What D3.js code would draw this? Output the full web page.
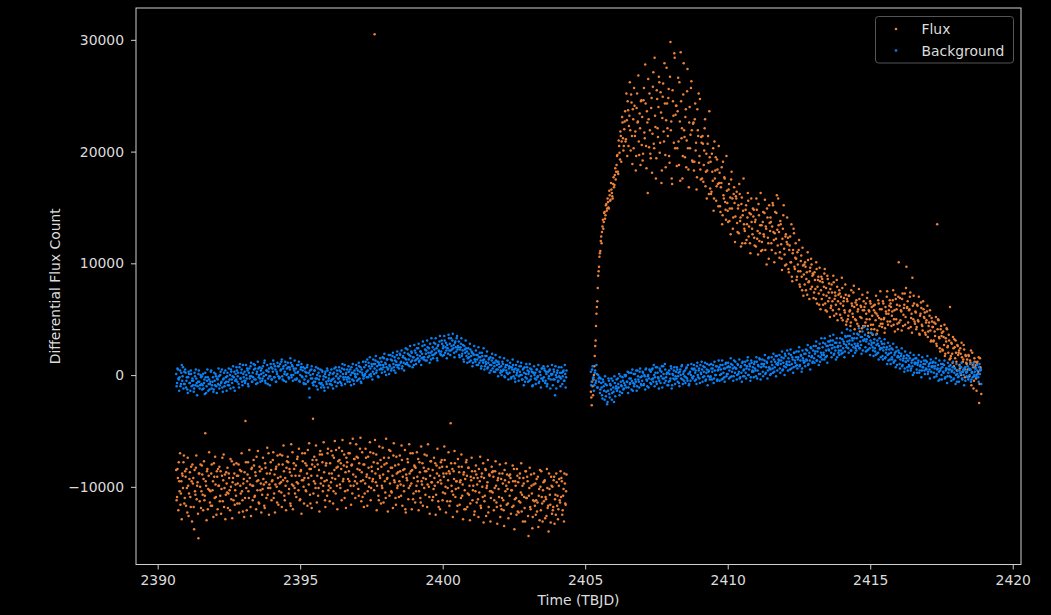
<!DOCTYPE html>
<html>
<head>
<meta charset="utf-8">
<script src="https://cdn.jsdelivr.net/npm/d3@7"></script>
<style>
  html, body { margin: 0; background: #000; }
  svg { display: block; font-family: "DejaVu Sans", sans-serif; }
</style>
</head>
<body>
<svg id="chart" width="1051" height="615"></svg>
<script>
// Light curve sampled at a fixed cadence; values are in hundreds of counts.
// Each orbit has two interleaved sample runs (A and B), offset by half a cadence.
const CADENCE = 0.03;            // days between samples within one run
const UNIT = 100;                // counts per stored unit
const orbit1StartA = 2390.65;
const orbit1StartB = 2390.665;
const orbit2StartA = 2405.2;
const orbit2StartB = 2405.215;

const flux1A = [
  -85,-109,-92,-78,-104,-116,-95,-88,-101,-72,
  -110,-91,-84,-123,-99,-106,-87,-118,-95,-80,
  -92,-138,-104,-83,-111,-96,-146,-88,-100,-119,
  -81,-107,-93,-112,-52,-99,-86,-120,-90,-103,
  -104,-88,-117,-95,-79,-110,-98,-125,-91,-84,
  -99,-113,-86,-102,-74,-94,-118,-89,-107,-97,
  -83,-106,-92,-121,-100,-77,-96,-112,-88,-103,
  -108,-90,-97,-80,-115,-99,-86,-104,-122,-93,
  -87,-41,-101,-95,-78,-110,-92,-118,-84,-99,
  -99,-81,-108,-90,-73,-103,-94,-115,-86,-97,
  -84,-102,-93,-117,-79,-96,-88,-107,-70,-98,
  -101,-85,-95,-76,-110,-89,-98,-82,-114,-92,
  -80,-97,-91,-105,-72,-94,-86,-112,-99,-83,
  -95,-78,-102,-87,-117,-90,-69,-99,-84,-106,
  -81,-96,-73,-103,-90,-111,-85,-94,-77,-100,
  -92,-79,-104,-88,-67,-98,-84,-115,-90,-80,
  -39,-95,-82,-101,-76,-90,-108,-85,-71,-97,
  -92,-78,-99,-87,-112,-81,-94,-70,-103,-88,
  -79,-96,-88,-72,-104,-85,-93,-67,-99,-82,
  -90,-76,-101,-84,-68,-95,-81,-110,-87,-74,
  -78,-93,-86,-70,-99,-81,-106,-89,-75,-95,
  -91,-73,-84,-102,-79,-66,-95,-87,-109,-80,
  -80,-97,-74,-89,-104,-83,-92,-69,-101,-86,
  -93,-78,305,-88,-71,-99,-84,-112,-90,-76,
  -82,-101,-89,-74,-95,-110,-79,-92,-86,-67,
  -97,-83,-105,-90,-72,-94,-81,-116,-88,-99,
  -80,-95,-86,-108,-76,-91,-99,-84,-120,-89,
  -94,-78,-101,-88,-70,-97,-85,-111,-92,-82,
  -83,-99,-91,-75,-104,-87,-114,-95,-79,-92,
  -101,-86,-93,-72,-98,-84,-109,-90,-77,-96,
  -85,-102,-92,-79,-107,-88,-96,-118,-83,-94,
  -97,-82,-105,-91,-76,-100,-88,-113,-94,-86,
  -88,-43,-99,-84,-107,-93,-79,-102,-95,-117,
  -101,-87,-96,-110,-82,-98,-89,-120,-93,-78,
  -90,-106,-83,-99,-115,-94,-86,-103,-92,-122,
  -104,-89,-98,-111,-84,-95,-117,-91,-100,-79,
  -92,-108,-85,-101,-96,-123,-89,-104,-110,-82,
  -105,-91,-112,-86,-99,-118,-94,-102,-88,-127,
  -93,-110,-97,-121,-85,-104,-99,-89,-115,-96,
  -108,-92,-103,-118,-95,-84,-111,-99,-125,-90,
  -96,-113,-88,-105,-122,-99,-92,-109,-131,-86,
  -110,-95,-144,-101,-118,-89,-106,-127,-98,-113,
  -97,-112,-122,-91,-108,-130,-100,-86,-115,-103,
  -113,-94,-109,-126,-101,-117,-88,-107,-132,-99,
  -100,-118,-91,-111,-125,-96,-108,-120,-93,-114,
  -109,-95,-121,-102,-88,-115,-104
];

const flux1B = [
  -112,-84,-121,-95,-70,-106,-129,-90,-78,-115,
  -86,-117,-101,-74,-126,-93,-109,-82,-131,-97,
  -118,-85,-107,-72,-99,-124,-88,-113,-80,-104,
  -89,-121,-77,-108,-95,-130,-84,-102,-69,-114,
  -117,-80,-103,-127,-91,-73,-109,-86,-120,-99,
  -82,-108,-124,-90,-113,-71,-101,-129,-87,-105,
  -119,-88,-103,-75,-111,-128,-92,-80,-116,-98,
  -79,-115,-90,-123,-85,-106,-70,-112,-97,-127,
  -110,-78,-121,-89,-104,-67,-98,-126,-83,-112,
  -76,-109,-87,-120,-95,-68,-114,-82,-103,-123,
  -107,-74,-98,-119,-83,-110,-65,-101,-125,-88,
  -78,-112,-94,-69,-106,-123,-84,-100,-72,-116,
  -104,-71,-96,-118,-80,-63,-108,-92,-121,-77,
  -73,-106,-84,-115,-62,-98,-120,-79,-101,-90,
  -109,-75,-97,-66,-112,-86,-124,-70,-94,-115,
  -70,-103,-81,-117,-92,-61,-107,-84,-119,-76,
  -106,-73,-97,-63,-114,-80,-101,-122,-68,-92,
  -71,-104,-60,-95,-118,-79,-108,-66,-99,-113,
  -101,-68,-92,-115,-74,-59,-106,-83,-120,-77,
  -65,-98,-79,-112,-58,-93,-71,-104,-119,-82,
  -103,-70,-95,-61,-116,-80,-57,-99,-75,-110,
  -62,-97,-74,-108,-85,-56,-113,-69,-94,-118,
  -106,-66,-91,-117,-73,-100,-60,-112,-82,-95,
  -70,-103,-58,-96,-121,-79,-108,-64,-92,-115,
  -99,-65,-114,-80,-105,-57,-93,-122,-74,-108,
  -68,-104,-83,-119,-61,-96,-110,-73,-101,-87,
  -109,-72,-98,-63,-117,-85,-104,-67,-123,-92,
  -75,-111,-62,-99,-86,-120,-70,-106,-81,-114,
  -104,-69,-95,-121,-78,-110,-64,-98,-117,-83,
  -71,-107,-86,-118,-62,-100,-124,-77,-96,-112,
  -109,-74,-99,-125,-81,-66,-113,-90,-120,-78,
  -76,-112,-88,-64,-106,-123,-82,-101,-69,-117,
  -113,-79,-104,-127,-86,-68,-109,-95,-122,-75,
  -82,-116,-94,-71,-108,-129,-87,-103,-120,-76,
  -118,-83,-107,-130,-91,-74,-112,-99,-125,-86,
  -81,-114,-92,-127,-105,-73,-119,-88,-109,-132,
  -113,-84,-126,-99,-76,-118,-90,-131,-104,-87,
  -86,-121,-101,-77,-114,-133,-92,-109,-80,-117,
  -120,-88,-112,-135,-94,-79,-116,-102,-128,-90,
  -89,-124,-103,-81,-117,-138,-95,-110,-84,-122,
  -123,-92,-114,-79,-107,-131,-97,-119,-86,-110,
  -91,-126,-108,-83,-120,-99,-137,-112,-88,-117,
  -125,-93,-114,-136,-102,-85,-121,-109,-131,-96,
  -95,-128,-111,-84,-119,-140,-102,-116,-91,-124,
  -121,-94,-133,-107,-88,-117,-129,-99,-112,-86,
  -92,-125,-108,-131,-97,-116,-89
];

const background1A = [
  1,-7,5,-4,-2,-10,2,-5,7,-8,
  -8,2,-5,-13,-2,1,-7,4,-10,-3,
  -5,-12,-1,5,-7,-10,1,-6,-9,-2,
  -1,-9,-12,-4,2,-16,-5,-2,-8,-13,
  -6,4,-9,-2,-13,-5,1,-10,-3,-8,
  -1,-9,3,-6,-11,-4,2,-7,-2,-14,
  2,-6,-9,0,5,-4,-1,-11,3,-5,
  -4,4,-1,-8,7,-3,2,-6,9,-2,
  3,-5,0,6,-8,2,-3,8,-1,-6,
  -2,5,9,-4,1,-7,6,0,-3,4,
  6,-3,2,11,-5,0,4,-8,3,-1,
  -1,7,-4,3,10,-2,5,-6,1,8,
  8,-2,4,12,-1,6,-5,3,9,0,
  1,7,-3,5,11,-2,8,0,4,-4,
  6,-3,2,9,-5,0,7,-1,4,-7,
  -4,3,-1,7,-6,2,-20,0,5,-3,
  1,-6,4,-3,-10,0,6,-4,-1,-8,
  -7,3,-4,-11,1,-2,-8,4,-5,0,
  2,-5,-9,1,-3,6,-6,-1,4,-7,
  -3,4,-1,-7,6,1,-4,9,-2,2,
  5,-2,3,-6,0,7,-4,2,-8,1,
  -2,6,1,-4,8,3,-6,5,0,-3,
  7,1,9,-2,4,11,0,6,-1,8,
  3,10,6,13,2,8,-1,11,5,9,
  12,5,9,15,3,10,7,14,6,1,
  8,14,6,17,10,4,13,9,18,7,
  15,9,18,12,6,16,11,20,10,14,
  11,19,14,8,17,21,13,16,9,22,
  20,14,18,24,12,17,21,15,26,16,
  16,23,19,13,25,20,17,28,14,21,
  25,18,23,28,20,15,26,22,30,19,
  21,28,24,18,31,25,22,27,19,33,
  28,22,26,31,24,20,29,25,33,23,
  25,18,23,28,17,22,14,26,20,24,
  21,15,19,12,23,17,20,11,18,14,
  12,18,14,9,16,20,13,8,17,11,
  14,8,12,17,6,11,15,9,4,13,
  6,11,8,3,13,9,5,12,7,2,
  8,3,10,5,-1,7,4,9,1,6,
  2,7,-2,5,9,3,-3,6,0,4,
  5,-1,3,8,0,-4,6,2,-6,1,
  -3,4,1,-5,6,-1,3,-9,2,0,
  2,-4,5,-1,-7,3,0,-3,6,-5,
  -2,4,-5,1,-8,3,-1,5,-4,0,
  1,-4,3,-18,0,-2,4,-5,-1,2,
  -3,2,-1,4,-5,1,-2
];

const background1B = [
  -10,6,-3,-14,4,-8,9,-1,-12,3,
  5,-11,-2,-16,3,-7,-14,1,-5,-9,
  -15,2,-9,-3,-18,-6,4,-12,0,-8,
  -13,1,-7,-17,-2,-10,5,-14,-4,-8,
  3,-12,-6,-15,2,-9,-1,-16,-4,6,
  -12,0,-7,5,-15,-3,-10,4,-6,-1,
  -9,6,-4,-12,3,-7,8,-2,-14,1,
  7,-6,2,-11,10,-3,5,-9,1,-5,
  -7,9,-3,4,-10,6,-1,11,-6,2,
  10,-4,6,-8,3,12,-2,7,-6,1,
  -5,8,-1,13,-7,4,9,-3,6,-9,
  10,-4,6,13,-2,8,-6,3,11,-1,
  -3,10,5,14,-4,8,1,12,-6,6,
  11,-2,7,15,0,9,-5,6,13,2,
  -4,9,3,12,-6,5,10,-2,7,-8,
  6,-8,2,9,-5,-12,4,-3,8,-7,
  -9,4,-6,7,-3,-13,2,-7,5,-11,
  4,-9,-1,-14,3,-6,6,-11,-3,-8,
  -8,5,-4,-12,2,-6,7,-10,1,-3,
  7,-6,3,-9,10,-2,5,-8,1,-4,
  -6,8,-3,5,-9,2,10,-5,4,-1,
  9,-5,4,11,-3,7,-7,2,12,-1,
  0,12,3,14,-2,8,16,1,10,-4,
  14,1,10,17,4,12,-2,9,15,6,
  2,16,7,19,11,0,14,5,18,9,
  18,4,13,20,7,16,2,12,21,9,
  6,19,11,22,8,17,4,15,24,10,
  23,9,18,26,12,20,7,16,27,13,
  10,24,15,28,13,21,9,19,30,14,
  27,13,22,31,16,24,11,20,33,18,
  15,29,19,33,24,13,27,21,35,18,
  31,17,26,35,20,29,15,24,36,22,
  18,33,23,37,27,16,30,21,35,26,
  30,16,25,33,19,27,12,23,31,17,
  11,24,16,28,13,21,8,19,26,14,
  22,9,18,25,11,16,6,20,13,24,
  5,17,10,21,7,14,2,16,9,19,
  15,3,11,18,5,12,-1,10,16,4,
  0,12,4,15,-2,9,2,13,-4,8,
  11,-3,7,14,-1,5,-6,9,2,12,
  -5,8,0,11,-4,5,-9,7,-2,10,
  7,-6,3,10,-4,5,-10,2,8,-3,
  -8,5,-2,9,-6,3,-11,6,-3,8,
  6,-7,3,-10,8,-3,4,-12,1,9,
  -9,5,-4,8,-12,2,-6,7,-2,-10,
  7,-8,3,-5,9,-11,4
];

const flux2A = [
  -15,-27,-10,-4,8,26,44,61,78,93,
  106,111,124,128,139,137,146,143,153,149,
  155,149,161,157,166,160,171,168,179,175,
  188,197,180,205,193,214,209,226,201,220,
  236,211,228,245,205,232,219,251,214,238,
  203,241,218,196,252,227,209,234,188,246,
  231,198,257,212,243,185,226,265,204,219,
  194,248,216,271,203,232,176,255,221,240,
  262,208,235,183,249,218,279,197,228,243,
  214,256,190,298,227,171,245,208,284,233,
  241,203,266,188,227,289,212,176,251,219,
  195,238,210,274,184,226,203,257,219,191,
  226,191,243,208,177,219,252,196,184,213,
  176,207,188,221,169,198,183,214,162,195,
  191,164,182,203,158,176,195,169,184,151,
  172,151,168,186,143,161,177,155,139,165,
  147,166,138,159,175,149,131,162,154,142,
  158,136,149,127,162,141,153,118,147,135,
  129,148,121,141,156,133,118,144,137,126,
  142,123,137,115,148,129,153,120,134,111,
  119,137,126,145,112,131,149,123,104,136,
  141,118,133,152,121,127,109,145,130,158,
  128,110,135,104,122,143,113,98,126,119,
  117,95,112,124,101,88,109,131,97,105,
  104,88,99,112,81,93,107,76,98,90,
  81,97,86,72,103,84,93,77,99,89,
  90,74,85,68,95,79,88,63,84,76,
  68,83,72,91,64,78,57,86,74,69,
  77,62,74,58,83,68,71,55,79,66,
  59,73,64,51,78,62,69,56,72,48,
  66,53,71,58,47,64,55,74,61,50,
  49,63,57,44,68,52,61,42,58,66,
  61,47,55,69,44,58,50,64,41,53,
  45,58,63,49,55,40,67,51,59,46,
  59,46,64,51,42,57,70,48,55,62,
  48,61,53,67,45,58,72,50,63,41,
  101,62,49,57,68,44,60,73,52,97,
  61,47,58,70,43,55,87,50,64,46,
  56,43,62,48,37,53,65,45,40,59,
  51,38,47,57,34,44,53,40,31,48,
  43,31,39,46,28,135,50,34,24,41,
  35,23,39,27,17,33,42,25,20,31,
  61,17,28,11,24,32,15,20,4,26,
  20,9,24,0,16,12,27,5,18,11,
  14,-2,17,5,11,-9,20,7,-5,12,
  9,-14,12,3,-25,15,5
];

const flux2B = [
  -20,-6,-18,0,17,31,55,66,89,97,
  109,120,118,133,131,145,140,152,147,158,
  150,165,156,172,163,158,177,170,185,182,
  196,182,210,199,218,191,231,212,205,227,
  209,252,196,237,223,262,201,244,189,229,
  257,214,183,239,226,268,197,221,245,206,
  192,246,217,278,205,236,163,229,252,198,
  239,181,258,207,284,222,194,247,213,267,
  199,253,172,230,261,209,243,186,275,221,
  248,196,267,219,176,255,232,288,203,241,
  187,236,209,262,174,245,221,196,279,213,
  231,186,254,203,168,240,215,263,192,225,
  183,229,201,166,238,214,190,247,175,208,
  214,173,201,229,182,158,207,190,236,167,
  162,198,174,147,209,183,156,193,171,205,
  181,146,172,135,191,158,176,148,196,154,
  137,171,149,126,182,158,141,168,119,160,
  164,128,152,171,138,115,159,143,176,131,
  118,152,135,163,124,145,109,158,131,149,
  148,116,139,158,122,108,143,127,163,134,
  112,146,124,157,133,99,141,118,152,129,
  137,112,154,128,101,146,122,161,116,134,
  105,138,117,94,131,152,108,124,99,141,
  123,92,116,101,135,84,112,127,95,118,
  85,110,93,121,79,102,88,114,71,99,
  101,76,92,110,83,68,96,104,79,91,
  69,92,77,101,64,85,73,96,59,88,
  86,63,79,95,58,71,89,66,82,52,
  60,81,66,89,53,74,63,85,49,72,
  76,54,70,87,49,66,58,81,45,68,
  50,71,57,44,76,62,52,80,41,65,
  67,46,59,77,39,62,51,72,44,58,
  44,64,50,74,38,57,66,45,61,36,
  62,41,56,71,37,53,64,44,75,50,
  43,66,50,38,61,55,75,45,58,67,
  64,44,57,76,50,39,68,59,46,70,
  47,69,58,40,73,54,63,45,78,60,
  66,42,59,74,51,38,62,71,48,57,
  41,63,49,70,36,55,60,44,66,52,
  56,36,49,62,39,47,58,30,51,43,
  30,47,35,52,26,41,49,33,21,44,
  38,22,34,45,19,30,41,26,36,14,
  15,29,19,34,8,25,31,12,27,18,
  22,6,19,29,3,14,23,-2,17,10,
  5,18,-1,13,22,2,9,-12,15,7,
  -3,11,1,16,-8,7,-17
];

const background2A = [
  3,-6,8,-2,-9,4,-5,1,-11,-3,
  -2,-13,-7,-18,-4,-10,-22,-8,-15,-26,
  -14,-5,-20,-9,-3,-16,-11,-24,-7,-12,
  -4,-12,-8,1,-15,-6,-10,-2,-13,-7,
  -9,0,-6,3,-11,-3,-7,2,-5,-14,
  1,-8,-4,4,-10,-1,-6,3,-2,-9,
  -5,2,-8,-1,5,-4,-10,0,-3,4,
  3,-4,6,-6,0,-2,7,-8,2,-3,
  -5,4,-1,8,-3,1,-7,5,-2,2,
  2,-6,1,-3,6,-9,0,4,-4,-1,
  -3,5,-1,-7,3,0,8,-4,1,-5,
  4,-2,7,-5,1,-8,3,0,6,-3,
  -1,6,2,-4,8,0,4,-3,9,1,
  5,-2,3,7,-5,2,10,-1,4,-4,
  -1,6,3,9,-3,4,0,8,-4,5,
  7,0,5,-4,9,2,-2,6,11,1,
  1,8,4,-2,10,3,6,-1,7,12,
  6,0,9,3,-3,7,2,11,-1,5,
  9,2,6,13,0,5,8,-2,11,4,
  3,10,6,-1,12,4,8,15,1,7,
  10,3,8,13,1,7,11,4,16,6,
  5,12,9,2,14,7,17,10,4,11,
  13,6,10,16,4,11,8,19,7,12,
  9,15,12,5,18,10,14,7,20,11,
  16,9,14,21,8,13,17,6,15,11,
  12,19,14,22,9,17,13,25,16,11,
  22,15,19,26,13,21,17,24,12,20,
  18,25,20,14,28,22,17,26,23,30,
  27,20,24,31,18,25,22,29,16,26,
  22,29,26,19,32,24,28,21,34,25,
  30,24,28,35,22,27,31,25,33,20,
  26,33,28,36,24,30,27,34,22,31,
  32,25,30,22,35,28,24,31,27,37,
  22,29,24,18,27,31,20,26,23,16,
  24,17,22,28,15,20,25,18,13,23,
  14,20,16,23,11,18,13,21,9,17,
  16,10,14,19,8,13,17,6,12,15,
  7,13,9,15,4,11,8,14,2,10,
  11,5,9,13,2,8,12,4,7,10,
  4,10,6,12,1,8,5,11,3,7,
  8,2,6,11,-1,5,9,3,-4,6,
  0,7,3,9,-3,4,6,-1,2,8,
  5,-2,3,7,-4,2,6,0,-6,4,
  -1,4,2,7,-3,3,0,6,-5,2,
  3,-2,6,0,5,-4,2,8,-1,3,
  6,0,4,-2,7,1,5
];

const background2B = [
  -9,5,-3,-14,2,-7,9,-11,0,-6,
  -16,-3,-11,-21,-6,-14,-1,-19,-9,-24,
  -3,-17,-8,-13,-22,-5,-15,-1,-19,-10,
  -14,-3,-11,-18,-1,-9,-16,-5,-12,0,
  -1,-11,-6,-16,2,-8,-3,-13,5,-7,
  -10,1,-6,-14,4,-4,-11,6,-8,-1,
  3,-9,0,-13,6,-5,-1,-11,5,-7,
  -8,5,-3,9,-10,2,-6,7,-2,-12,
  6,-7,3,-11,8,-3,10,-5,1,-9,
  -9,4,-5,8,-12,1,-3,7,-8,3,
  7,-6,2,-10,5,-3,9,-8,3,-1,
  -7,6,-3,9,-9,2,-5,10,-2,5,
  9,-5,4,-8,11,-2,6,-7,2,12,
  -6,8,-1,11,-4,5,-9,3,9,-2,
  10,-4,6,-7,12,0,8,-5,4,13,
  -5,9,1,13,-3,6,-6,10,-1,7,
  11,-3,7,15,-1,9,-5,13,2,6,
  -4,10,1,14,-2,8,-6,12,4,-1,
  12,-3,8,16,0,10,-5,13,3,7,
  -2,12,4,16,-3,9,1,14,-4,10,
  14,-1,10,18,2,12,-3,15,7,0,
  1,16,6,19,3,12,-1,17,9,14,
  18,2,13,21,5,15,0,17,10,22,
  4,19,9,23,6,16,2,20,13,8,
  21,6,16,25,9,18,3,22,13,19,
  8,23,13,27,10,20,5,24,17,12,
  26,11,21,30,13,24,9,28,16,33,
  14,29,18,33,16,26,11,30,22,35,
  31,16,27,36,19,29,14,33,25,20,
  18,33,22,38,20,30,16,35,27,41,
  35,20,31,40,22,33,17,37,28,24,
  22,37,26,42,24,34,19,39,31,43,
  36,21,32,41,23,34,18,38,29,25,
  17,32,21,36,19,28,14,33,24,30,
  28,14,25,32,16,23,10,29,19,26,
  10,24,14,28,12,20,7,25,16,22,
  20,6,17,24,9,15,3,21,12,18,
  4,17,8,20,6,13,0,18,11,15,
  15,2,11,18,4,9,-2,16,7,13,
  1,13,5,17,3,10,-3,14,8,11,
  12,-2,8,15,1,6,-5,13,4,10,
  -4,10,2,13,-2,6,-7,11,5,-1,
  9,-5,4,12,-3,6,-8,10,1,-2,
  -6,8,1,11,-4,5,-9,7,3,-1,
  8,-4,5,10,-6,3,-2,11,0,6,
  -2,9,1,-6,10,4,-8
];

const xTicks = [2390, 2395, 2400, 2405, 2410, 2415, 2420];
const yTicks = [-10000, 0, 10000, 20000, 30000];
const seriesNames = ["Flux", "Background"];
const seriesColors = ["#ec823a", "#0a82f5"];

const svg = d3.select("#chart");
const W = 1051, H = 615;
const plot = { left: 136, right: 1021, top: 8, bottom: 564.5 };
const textColor = "#dcdcdc";
const lineColor = "#cfcfcf";

svg.append("rect").attr("width", W).attr("height", H).attr("fill", "#000");

const x = d3.scaleLinear().domain([2389.24, 2420.29]).range([plot.left, plot.right]);
const y = d3.scaleLinear().domain([-16950, 32850]).range([plot.bottom, plot.top]);

// Turn a stored run of samples into (time, counts) points
function toPoints(values, start) {
  return values.map((v, i) => ({ t: start + i * CADENCE, v: v * UNIT }));
}

const series = [
  { name: seriesNames[0], color: seriesColors[0],
    points: [].concat(
      toPoints(flux1A, orbit1StartA), toPoints(flux1B, orbit1StartB),
      toPoints(flux2A, orbit2StartA), toPoints(flux2B, orbit2StartB)) },
  { name: seriesNames[1], color: seriesColors[1],
    points: [].concat(
      toPoints(background1A, orbit1StartA), toPoints(background1B, orbit1StartB),
      toPoints(background2A, orbit2StartA), toPoints(background2B, orbit2StartB)) }
];

const marks = svg.append("g");
series.forEach(s => {
  marks.append("g")
    .attr("fill", s.color)
    .selectAll("circle")
    .data(s.points)
    .join("circle")
    .attr("cx", d => x(d.t))
    .attr("cy", d => y(d.v))
    .attr("r", 1.25);
});

// Axes
const xAxis = svg.append("g")
  .attr("transform", `translate(0,${plot.bottom})`)
  .call(d3.axisBottom(x).tickValues(xTicks).tickFormat(d3.format("d")).tickSize(5).tickPadding(6));
const yAxis = svg.append("g")
  .attr("transform", `translate(${plot.left},0)`)
  .call(d3.axisLeft(y).tickValues(yTicks).tickFormat(d => d < 0 ? "\u2212" + Math.abs(d) : String(d)).tickSize(5).tickPadding(7));

[xAxis, yAxis].forEach(a => {
  a.select(".domain").remove();
  a.selectAll(".tick line").attr("stroke", lineColor).attr("stroke-width", 1);
  a.selectAll(".tick text").attr("fill", textColor)
    .style("font-size", "13.9px").style("font-family", "'DejaVu Sans', sans-serif");
});

// Frame
svg.append("rect")
  .attr("x", plot.left).attr("y", plot.top)
  .attr("width", plot.right - plot.left).attr("height", plot.bottom - plot.top)
  .attr("fill", "none").attr("stroke", lineColor).attr("stroke-width", 1);

// Axis titles
svg.append("text")
  .attr("x", (plot.left + plot.right) / 2).attr("y", 605)
  .attr("text-anchor", "middle").attr("fill", textColor)
  .style("font-size", "13.9px")
  .text("Time (TBJD)");
svg.append("text")
  .attr("transform", `translate(59.5,${(plot.top + plot.bottom) / 2}) rotate(-90)`)
  .attr("text-anchor", "middle").attr("fill", textColor)
  .style("font-size", "13.9px")
  .text("Differential Flux Count");

// Legend
const legend = svg.append("g");
legend.append("rect")
  .attr("x", 875.5).attr("y", 16.5).attr("width", 138).attr("height", 46.5).attr("rx", 3)
  .attr("fill", "#000").attr("stroke", "#555").attr("stroke-width", 1);
series.forEach((s, i) => {
  const cy = 29 + i * 21.5;
  legend.append("circle").attr("cx", 896).attr("cy", cy).attr("r", 1.3).attr("fill", s.color);
  legend.append("text").attr("x", 921.5).attr("y", cy + 5)
    .attr("fill", textColor).style("font-size", "13.9px").text(s.name);
});
</script>
</body>
</html>
